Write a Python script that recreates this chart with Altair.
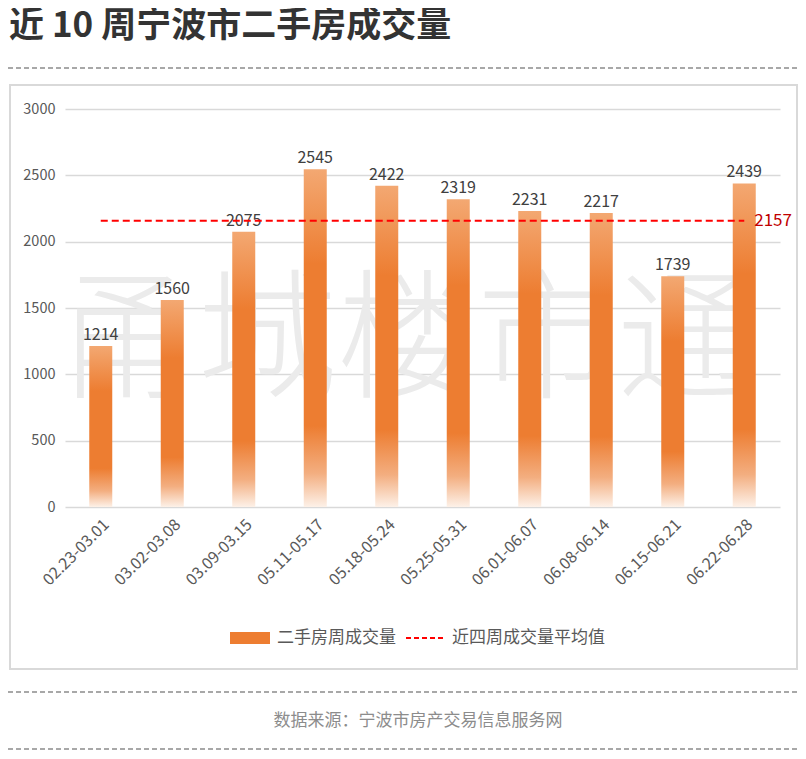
import altair as alt
import pandas as pd

weeks = ["02.23-03.01", "03.02-03.08", "03.09-03.15", "05.11-05.17", "05.18-05.24",
         "05.25-05.31", "06.01-06.07", "06.08-06.14", "06.15-06.21", "06.22-06.28"]
volumes = [1214, 1560, 2075, 2545, 2422, 2319, 2231, 2217, 1739, 2439]
avg_value = 2157

title_text = "近 10 周宁波市二手房成交量"
source_text = "数据来源：宁波市房产交易信息服务网"
watermark_text = "甬城楼市通"
bar_series = "二手房周成交量"
avg_series = "近四周成交量平均值"

FONT = "Noto Sans CJK SC"
GREY = "#595959"

df = pd.DataFrame({"week": weeks, "volume": volumes})
df["avg"] = avg_value
last = df.tail(1)
one = pd.DataFrame({"k": [0]})

x_enc = alt.X("week:N", sort=weeks, title=None,
              axis=alt.Axis(labelAngle=-45, labelFontSize=16, labelColor=GREY, labelFont=FONT,
                            ticks=False, domain=False, labelPadding=9))
y_enc = alt.Y("volume:Q", title=None, scale=alt.Scale(domain=[0, 3000]),
              axis=alt.Axis(values=[0, 500, 1000, 1500, 2000, 2500, 3000], format="d",
                            labelFontSize=14.5, labelColor=GREY, labelFont=FONT, ticks=False,
                            domain=False, gridColor="#d9d9d9", gridWidth=1.5, labelPadding=10))

bar_fill = alt.Gradient(
    gradient="linear", x1=0, x2=0, y1=0, y2=1,
    stops=[
        alt.GradientStop(color="#F3A872", offset=0),
        alt.GradientStop(color="#ED7D31", offset=0.28),
        alt.GradientStop(color="#ED7D31", offset=0.76),
        alt.GradientStop(color="#F3AE80", offset=0.9),
        alt.GradientStop(color="#FDF1E8", offset=1),
    ],
)

watermark = alt.Chart(one).mark_text(
    text=watermark_text, font=FONT, fontSize=140, color="#ebebeb", fontWeight=300,
    align="center", baseline="middle",
).encode(x=alt.value(342), y=alt.value(236))

bars = alt.Chart(df).mark_bar(size=23, fill=bar_fill).encode(x=x_enc, y=y_enc)

bar_labels = alt.Chart(df).mark_text(
    font=FONT, fontSize=16, color="#404040", baseline="alphabetic", dy=-6
).encode(x=alt.X("week:N", sort=weeks), y="volume:Q", text="volume:Q")

avg_line = alt.Chart(df).mark_line(
    color="#FF0000", strokeDash=[7, 4], strokeWidth=2
).encode(x=alt.X("week:N", sort=weeks), y="avg:Q")

avg_label = alt.Chart(last).mark_text(
    font=FONT, fontSize=17, color="#C00000", align="left", baseline="middle", dx=10
).encode(x=alt.X("week:N", sort=weeks), y="avg:Q", text="avg:Q")

title = alt.Chart(one).mark_text(
    text=title_text, font=FONT, fontSize=35, fontWeight="bold", color="#333333",
    align="left", baseline="middle",
).encode(x=alt.value(-56), y=alt.value(-83))

def dashed(y):
    return alt.Chart(one).mark_rule(color="#8c8c8c", strokeDash=[5, 3], strokeWidth=1.5).encode(
        x=alt.value(-65), x2=alt.value(741), y=alt.value(y)
    )

box = alt.Chart(one).mark_rect(fill="transparent", stroke="#d9d9d9", strokeWidth=2).encode(
    x=alt.value(-55), x2=alt.value(732), y=alt.value(-24), y2=alt.value(560)
)

source = alt.Chart(one).mark_text(
    text=source_text, font=FONT, fontSize=17, color="#8c8c8c", align="center", baseline="middle"
).encode(x=alt.value(353), y=alt.value(612))

# legend
leg_bar = alt.Chart(one).mark_rect(color="#ED7D31").encode(
    x=alt.value(165), x2=alt.value(205), y=alt.value(523), y2=alt.value(535)
)
leg_bar_text = alt.Chart(one).mark_text(
    text=bar_series, font=FONT, fontSize=17, color=GREY, align="left", baseline="middle"
).encode(x=alt.value(212), y=alt.value(529))
leg_line = alt.Chart(one).mark_rule(color="#FF0000", strokeDash=[5, 3], strokeWidth=2).encode(
    x=alt.value(341), x2=alt.value(378), y=alt.value(529)
)
leg_line_text = alt.Chart(one).mark_text(
    text=avg_series, font=FONT, fontSize=17, color=GREY, align="left", baseline="middle"
).encode(x=alt.value(387), y=alt.value(529))

chart = alt.layer(
    watermark, bars, bar_labels, avg_line, avg_label,
    title, dashed(-41), box, dashed(583), dashed(640), source,
    leg_bar, leg_bar_text, leg_line, leg_line_text,
).properties(
    width=715, height=398,
    autosize=alt.AutoSizeParams(type="none"),
    padding={"left": 57, "top": 101, "right": 18, "bottom": 244},
    background="white",
).configure_view(stroke="transparent")

chart.save("out.html", embed_options={"renderer": "svg", "actions": False})
